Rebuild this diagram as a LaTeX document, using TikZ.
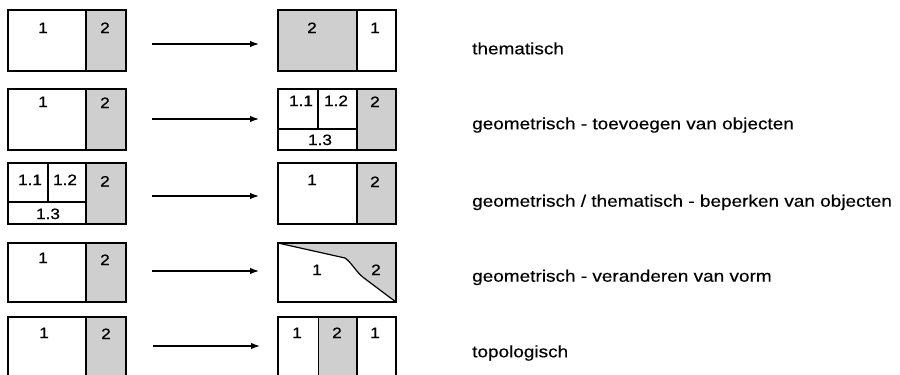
\documentclass[tikz,border=0pt]{standalone}
\usepackage{fontspec}
\setmainfont{Liberation Sans}[FakeStretch=1.15, FakeBold=0.35]
\newfontfamily\numfont{Liberation Sans}[FakeStretch=1.15, FakeBold=0.7]
\usetikzlibrary{arrows.meta}
\begin{document}
\begin{tikzpicture}[x=1pt,y=-1pt,
  box/.style={draw, line width=1.5pt, inner sep=0pt, outer sep=0pt, minimum width=118pt, minimum height=61pt},
  shaded/.style={fill=gray!38},
  divline/.style={line width=1.2pt},
  num/.style={font=\numfont\fontsize{15}{15}\selectfont, anchor=base, inner sep=0pt},
  txt/.style={font=\fontsize{16.5}{18}\selectfont, anchor=base west, inner sep=0pt},
  arr/.style={line width=1.3pt, -{Latex[length=9pt,width=6.5pt]}}]
\clip (0,0) rectangle (900,375);
\useasboundingbox (0,0) rectangle (900,375);
\fill[white] (0,0) rectangle (900,375);

% ---------- row 1 ----------
\fill[shaded] (86,10) rectangle (126,71);
\draw[divline] (86,10) -- (86,71);
\node[box] (L1) at (67,40.5) {};
\node[num] (L1a) at (43,33) {1};
\node[num] (L1b) at (105,33) {2};
\fill[shaded] (278,10) rectangle (357,71);
\draw[divline] (357,10) -- (357,71);
\node[box] (R1) at (337,40.5) {};
\node[num] (R1a) at (312,33) {2};
\node[num] (R1b) at (375,33) {1};
\coordinate (A1s) at (152,44); \coordinate (A1e) at (259,44);
\draw[arr] (A1s) -- (A1e);
\node[txt] (T1) at (472,54.3) {thematisch};

% ---------- row 2 ----------
\fill[shaded] (86,89) rectangle (126,150);
\draw[divline] (86,89) -- (86,150);
\node[box] (L2) at (67,119.5) {};
\node[num] (L2a) at (43,107) {1};
\node[num] (L2b) at (105,108) {2};
\fill[shaded] (357,89) rectangle (396,150);
\draw[divline] (357,89) -- (357,150);
\draw[divline] (278,129) -- (357,129);
\draw[divline] (318,89) -- (318,129);
\node[box] (R2) at (337,119.5) {};
\node[num] (R2a) at (301,106) {1.1};
\node[num] (R2b) at (336,106) {1.2};
\node[num] (R2c) at (375,107) {2};
\node[num] (R2d) at (320,145) {1.3};
\coordinate (A2s) at (152,119); \coordinate (A2e) at (259,119);
\draw[arr] (A2s) -- (A2e);
\node[txt] (T2) at (472,129.3) {geometrisch - toevoegen van objecten};

% ---------- row 3 ----------
\fill[shaded] (86,163) rectangle (126,224);
\draw[divline] (86,163) -- (86,224);
\draw[divline] (8,202) -- (86,202);
\draw[divline] (48,163) -- (48,202);
\node[box] (L3) at (67,193.5) {};
\node[num] (L3a) at (30,185) {1.1};
\node[num] (L3b) at (65,185) {1.2};
\node[num] (L3c) at (105,186.5) {2};
\node[num] (L3d) at (48,219) {1.3};
\fill[shaded] (357,163) rectangle (396,224);
\draw[divline] (357,163) -- (357,224);
\node[box] (R3) at (337,193.5) {};
\node[num] (R3a) at (312,185) {1};
\node[num] (R3b) at (375,187) {2};
\coordinate (A3s) at (152,196); \coordinate (A3e) at (259,196);
\draw[arr] (A3s) -- (A3e);
\node[txt] (T3) at (472,206.7) {geometrisch / thematisch - beperken van objecten};

% ---------- row 4 ----------
\fill[shaded] (86,243) rectangle (126,302);
\draw[divline] (86,243) -- (86,302);
\node[box, minimum height=59pt] (L4) at (67,272.5) {};
\node[num] (L4a) at (43,263) {1};
\node[num] (L4b) at (105,265) {2};
\fill[shaded] (278,243) -- (345,258) .. controls (352,263) and (356,272) .. (364,278) -- (396,302) -- (396,243) -- cycle;
\draw[divline] (278,243) -- (345,258) .. controls (352,263) and (356,272) .. (364,278) -- (396,302);
\node[box, minimum height=59pt] (R4) at (337,272.5) {};
\node[num] (R4a) at (317,275) {1};
\node[num] (R4b) at (376,275) {2};
\coordinate (A4s) at (152,271); \coordinate (A4e) at (259,271);
\draw[arr] (A4s) -- (A4e);
\node[txt] (T4) at (472,281.7) {geometrisch - veranderen van vorm};

% ---------- row 5 ----------
\fill[shaded] (86,317) rectangle (126,378);
\draw[divline] (86,317) -- (86,378);
\node[box] (L5) at (67,347.5) {};
\node[num] (L5a) at (44,338) {1};
\node[num] (L5b) at (106,339) {2};
\fill[shaded] (318.5,317) rectangle (357,378);
\draw[divline] (318.5,317) -- (318.5,378);
\draw[divline] (357,317) -- (357,378);
\node[box] (R5) at (337,347.5) {};
\node[num] (R5a) at (297,338) {1};
\node[num] (R5b) at (337,338) {2};
\node[num] (R5c) at (375,338) {1};
\coordinate (A5s) at (153,346); \coordinate (A5e) at (260,346);
\draw[arr] (A5s) -- (A5e);
\node[txt] (T5) at (472,357.3) {topologisch};
\end{tikzpicture}
\end{document}
